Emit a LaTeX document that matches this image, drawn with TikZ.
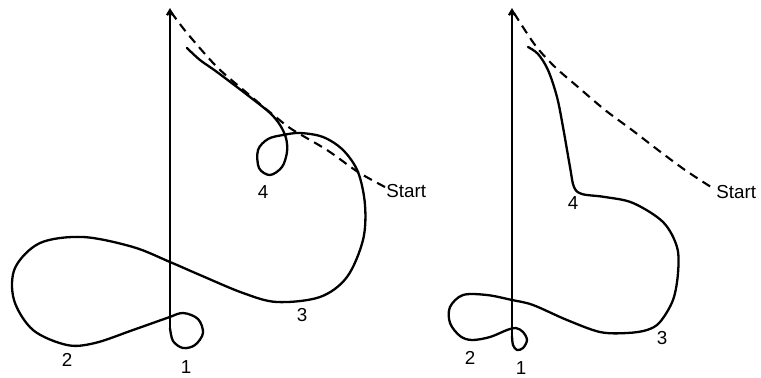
\documentclass[tikz,border=0pt]{standalone}
\usepackage{fontspec}
\setmainfont{Liberation Sans}
\usetikzlibrary{arrows.meta}
\begin{document}
\begin{tikzpicture}[x=0.5pt,y=-0.5pt,
  traj/.style={line width=1.15pt, line cap=round, line join=round},
  ideal/.style={line width=1.05pt, dash pattern=on 4.5pt off 3pt},
  axisline/.style={line width=1.15pt, -{Straight Barb[length=2.5pt,width=3pt]}},
  lbl/.style={font=\fontsize{9.4}{10}\selectfont, inner sep=0pt}]
\useasboundingbox (0,0) rectangle (761,377);
% ---------------- left diagram ----------------
\coordinate (Lbot) at (170,330);
\coordinate (Ltop) at (170,8);
\draw[axisline] (Lbot) -- (Ltop);
\draw[traj] plot[smooth, tension=0.55] coordinates {
 (187,48) (200,60) (217,72) (250,97) (270,113) (280,125) (286,138) (287,152) (282,167) (270,175)
 (259,168) (258,150) (268,139) (283,135) (300,133) (323,137) (343,150) (358,172) (365,205)
 (363,240) (347,277) (320,297) (277,302) (243,293) (200,275) (170,262) (133,247) (83,237)
 (40,243) (15,268) (14,300) (33,330) (67,345) (95,343) (133,330) (167,318) (183,313)
 (198,319) (203,333) (195,345) (183,348) (173,341) (170,328)};
\draw[ideal] plot[smooth, tension=0.5] coordinates {
 (171,12) (187,33) (217,67) (247,93) (277,118) (293,130) (327,150) (358,172) (385,187)};
\node[lbl, anchor=west] (Lstart) at (386,191) {Start};
\node[lbl] (L4) at (263,192) {4};
\node[lbl] (L3) at (302,315) {3};
\node[lbl] (L2) at (67,360) {2};
\node[lbl] (L1) at (186,367) {1};
% ---------------- right diagram ----------------
\coordinate (Rbot) at (512,337);
\coordinate (Rtop) at (512,8);
\draw[axisline] (Rbot) -- (Rtop);
\draw[traj] plot[smooth, tension=0.55] coordinates {
 (528,47) (538,54) (548,70) (557,97) (563,127) (570,167) (574,187) (582,194) (605,197)
 (633,203) (663,222) (677,247) (678,273) (673,300) (660,322) (647,330) (627,333) (600,332)
 (567,320) (533,305) (512,300) (487,295) (463,295) (450,307) (450,323) (460,336) (472,340)
 (490,337) (507,330) (516,328) (523,332) (527,340) (523,348) (517,350) (513,345) (512,336)};
\draw[ideal] plot[smooth, tension=0.5] coordinates {
 (514,13) (535,45) (555,67) (578,87) (605,110) (632,130) (658,150) (685,170) (711,187)};
\node[lbl, anchor=west] (Rstart) at (716,192) {Start};
\node[lbl] (R4) at (573,203) {4};
\node[lbl] (R3) at (662,338) {3};
\node[lbl] (R2) at (470,358) {2};
\node[lbl] (R1) at (521,368) {1};
\end{tikzpicture}
\end{document}
